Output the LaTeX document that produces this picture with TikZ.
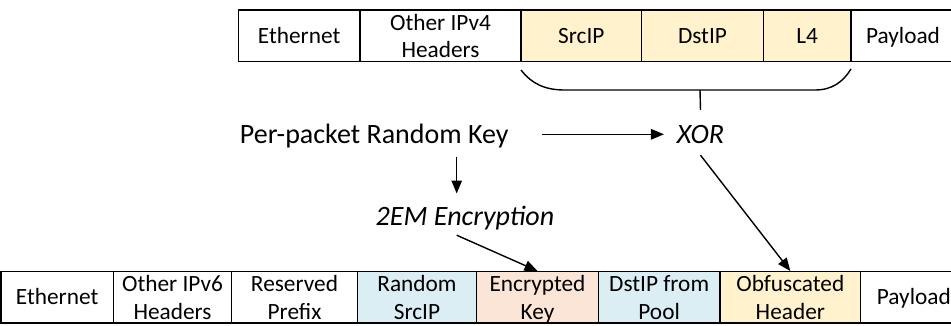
\documentclass[tikz,border=0pt]{standalone}
\usepackage{fontspec}
\setmainfont{Carlito}
\usetikzlibrary{arrows.meta,calc}
\definecolor{hdryellow}{HTML}{FFF2CC}
\definecolor{hdrblue}{HTML}{DAEEF3}
\definecolor{hdrpeach}{HTML}{FBE5D6}
\begin{document}
\begin{tikzpicture}[x=1pt,y=-1pt,
  cell/.style={draw, line width=1.4pt, inner sep=0pt, align=center, text depth=0pt,
    font=\fontsize{23.3}{27.5}\selectfont},
  toprow/.style={cell, minimum height=51.7pt},
  botrow/.style={cell, minimum height=51.3pt},
  one/.style={text height=15.2pt, text depth=0pt},
  free/.style={inner sep=0pt, font=\fontsize{28}{32}\selectfont, text height=18pt, text depth=0pt},
  arr/.style={line width=1.4pt, -{Triangle[length=13pt,width=10.5pt]}},
  conn/.style={line width=1.4pt}]
\useasboundingbox (0,0) rectangle (951,325);
\clip (0,0) rectangle (951,325);

% top row (IPv4)
\node[toprow, one, minimum width=121.7pt] (e4) at (299.15,35.85) {Ethernet};
\node[toprow, minimum width=161pt] (o4) at (440.5,35.85) {Other IPv4\\Headers};
\node[toprow, one, fill=hdryellow, minimum width=120.7pt] (s4) at (581.35,35.85) {SrcIP};
\node[toprow, one, fill=hdryellow, minimum width=121.6pt] (d4) at (702.5,35.85) {DstIP};
\node[toprow, one, fill=hdryellow, minimum width=87.7pt] (l4) at (807.15,35.85) {L4};
\node[toprow, one, minimum width=104pt] (p4) at (903,35.85) {Payload};

% brace
\draw[conn] (521,70) .. controls (532,84) and (545,90) .. (565,90) -- (815,90)
  .. controls (832,90) and (843,82) .. (851,69);
\coordinate (bc) at (700,90);

% free texts
\node[free] (pk) at (374.2,134.3) {Per-packet Random Key};
\node[free] (xor) at (700.5,134.3) {\itshape XOR};
\node[free] (enc) at (465,216) {\itshape 2EM Encryption};

% bottom row (IPv6)
\node[botrow, one, minimum width=112.3pt] (e6) at (57.15,297.35) {Ethernet};
\node[botrow, minimum width=118.4pt] (o6) at (172.5,297.35) {Other IPv6\\Headers};
\node[botrow, minimum width=125.6pt] (rp) at (294.5,297.35) {Reserved\\Prefix};
\node[botrow, fill=hdrblue, minimum width=119.4pt] (rs) at (417,297.35) {Random\\SrcIP};
\node[botrow, fill=hdrpeach, minimum width=121.6pt] (ek) at (537.5,297.35) {Encrypted\\Key};
\node[botrow, fill=hdrblue, minimum width=121.7pt] (dp) at (659.15,297.35) {DstIP from\\Pool};
\node[botrow, fill=hdryellow, minimum width=140.7pt] (ob) at (790.35,297.35) {Obfuscated\\Header};
\node[botrow, one, minimum width=106.3pt] (p6) at (913.85,297.35) {Payload};

% connectors
\draw[conn] (bc) -- ($(xor.north)+(0,-15.2)$);
\draw[arr] ($(pk.east)+(33.3,0)$) -- ($(xor.west)+(-12.7,0)$);
\draw[arr] ($(pk.south)+(82.5,13.4)$) -- ($(pk.south |- enc.north)+(82.5,-13.3)$);
\draw[arr] ($(xor.south)+(0,11.7)$) -- (ob.north);
\draw[arr] ($(enc.south)+(-8.3,10)$) -- (ek.north);
\end{tikzpicture}
\end{document}
